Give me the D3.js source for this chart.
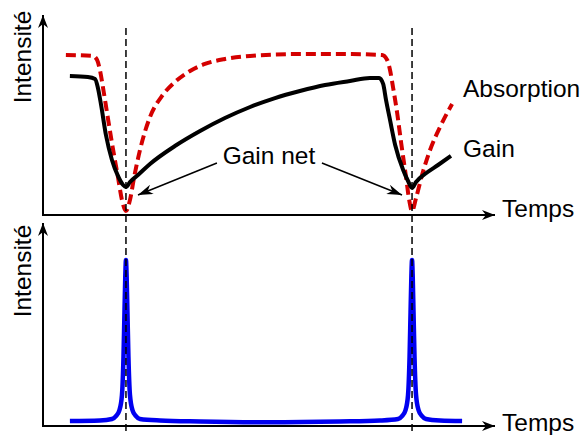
<!DOCTYPE html>
<html><head><meta charset="utf-8">
<script src="https://cdn.jsdelivr.net/npm/d3@7"></script>
<style>html,body{margin:0;padding:0;background:#fff}svg{display:block}text{font-family:"Liberation Sans",Arial,sans-serif;font-size:24.5px;fill:#000}</style>
</head><body>
<script>
// Time in units of pulse period (pulses at t=0 and t=1)
const pulseTimes = [0, 1];
const gainT = [-0.196,-0.133,-0.108,-0.098,-0.087,-0.070,-0.049,-0.028,-0.010,0,0.014,0.042,0.084,0.171,0.259,0.346,0.434,0.521,0.608,0.696,0.783,0.853,0.885,0.899,0.909,0.923,0.941,0.969,0.986,1.0,1.014,1.045,1.091,1.136];
const gainV = [0.869,0.8625,0.85,0.794,0.688,0.5,0.344,0.244,0.1875,0.175,0.206,0.25,0.319,0.431,0.525,0.606,0.675,0.731,0.775,0.8125,0.8375,0.856,0.856,0.819,0.719,0.594,0.4375,0.281,0.2125,0.169,0.206,0.256,0.3125,0.369];
const absT = [-0.210,-0.115,-0.101,-0.091,-0.080,-0.066,-0.049,-0.028,-0.014,0,0.014,0.028,0.049,0.084,0.126,0.171,0.224,0.276,0.346,0.434,0.608,0.783,0.895,0.913,0.923,0.934,0.948,0.962,0.979,0.990,1.0,1.014,1.035,1.063,1.098,1.140];
const absV = [1.0,0.994,0.969,0.906,0.794,0.6375,0.45,0.2375,0.094,0.025,0.094,0.231,0.406,0.6125,0.744,0.831,0.9,0.944,0.975,0.994,1.006,1.006,1.0,0.969,0.906,0.794,0.6375,0.45,0.2375,0.094,0.025,0.106,0.25,0.406,0.55,0.694];
const pulseT = [-0.196,-0.091,-0.049,-0.035,-0.0227,-0.014,-0.0087,-0.0052,-0.0024,0,0.0024,0.0052,0.0087,0.014,0.0227,0.035,0.049,0.119,0.259,0.5,0.748,0.888,0.951,0.965,0.9773,0.986,0.9913,0.9948,0.9976,1.0,1.0024,1.0052,1.0087,1.014,1.0227,1.035,1.049,1.098,1.175];
const pulseV = [0.030,0.033,0.042,0.060,0.096,0.187,0.416,0.687,0.90,1.0,0.90,0.687,0.416,0.187,0.096,0.060,0.042,0.033,0.027,0.022,0.027,0.033,0.042,0.060,0.096,0.187,0.416,0.687,0.90,1.0,0.90,0.687,0.416,0.187,0.096,0.060,0.042,0.033,0.030];
const labels = {y:"Intensité", x:"Temps", gain:"Gain", abs:"Absorption", net:"Gain net"};

const W = 584, H = 435;
const svg = d3.select("body").append("svg").attr("width", W).attr("height", H);

const x = d3.scaleLinear().domain([-0.29, 1.29]).range([43, 495]);
const yTop = d3.scaleLinear().domain([0, 1.25]).range([215, 15]);
const yBot = d3.scaleLinear().domain([0, 1.223]).range([426, 223]);

const defs = svg.append("defs");
function marker(id, w, h) {
  defs.append("marker").attr("id", id).attr("viewBox", `0 0 ${w} ${h}`)
    .attr("refX", w).attr("refY", h/2).attr("markerWidth", w).attr("markerHeight", h)
    .attr("markerUnits", "userSpaceOnUse").attr("orient", "auto")
    .append("path").attr("d", `M0,0 L${w},${h/2} L0,${h} L${w*0.3},${h/2} Z`).attr("fill", "#000");
}
marker("ax", 13, 10);
marker("ar", 15, 10);

function axes(y) {
  const [y0, y1] = y.range();
  svg.append("line").attr("x1", x.range()[0]).attr("x2", x.range()[0]).attr("y1", y0 + 1).attr("y2", y1)
    .attr("stroke", "#000").attr("stroke-width", 2).attr("marker-end", "url(#ax)");
  svg.append("line").attr("x1", x.range()[0] - 1).attr("x2", x.range()[1]).attr("y1", y0).attr("y2", y0)
    .attr("stroke", "#000").attr("stroke-width", 2).attr("marker-end", "url(#ax)");
}
axes(yTop);
axes(yBot);

const lineTop = d3.line().x(d => x(d[0])).y(d => yTop(d[1])).curve(d3.curveMonotoneX);
const lineBot = d3.line().x(d => x(d[0])).y(d => yBot(d[1])).curve(d3.curveMonotoneX);

svg.append("path").attr("d", lineTop(d3.zip(absT, absV))).attr("fill", "none")
  .attr("stroke", "#d40000").attr("stroke-width", 4).attr("stroke-dasharray", "10,5");
svg.append("path").attr("d", lineTop(d3.zip(gainT, gainV))).attr("fill", "none")
  .attr("stroke", "#000").attr("stroke-width", 4).attr("stroke-linejoin", "round");
svg.append("path").attr("d", lineBot(d3.zip(pulseT, pulseV))).attr("fill", "none")
  .attr("stroke", "#0000f0").attr("stroke-width", 4.5).attr("stroke-linejoin", "round");

svg.selectAll(".vd").data(pulseTimes).enter().append("line")
  .attr("x1", d => x(d)).attr("x2", d => x(d)).attr("y1", 28).attr("y2", H)
  .attr("stroke", "#000").attr("stroke-width", 1.5).attr("stroke-dasharray", "7,4");

// Annotations
svg.append("text").attr("x", x(0.5)).attr("y", yTop(0.319)).attr("text-anchor", "middle").text(labels.net);
svg.append("line").attr("x1", x(0.318)).attr("y1", yTop(0.325)).attr("x2", x(0.042)).attr("y2", yTop(0.125))
  .attr("stroke", "#000").attr("stroke-width", 1.5).attr("marker-end", "url(#ar)");
svg.append("line").attr("x1", x(0.685)).attr("y1", yTop(0.325)).attr("x2", x(0.965)).attr("y2", yTop(0.125))
  .attr("stroke", "#000").attr("stroke-width", 1.5).attr("marker-end", "url(#ar)");

svg.append("text").attr("x", 463).attr("y", 97).text(labels.abs);
svg.append("text").attr("x", 463).attr("y", 157).text(labels.gain);
svg.append("text").attr("x", 502).attr("y", 217).text(labels.x);
svg.append("text").attr("x", 502).attr("y", 431).text(labels.x);
svg.append("text").attr("transform", "translate(31,57) rotate(-90)").attr("text-anchor", "middle").text(labels.y);
svg.append("text").attr("transform", "translate(31,271) rotate(-90)").attr("text-anchor", "middle").text(labels.y);
</script>
</body></html>
